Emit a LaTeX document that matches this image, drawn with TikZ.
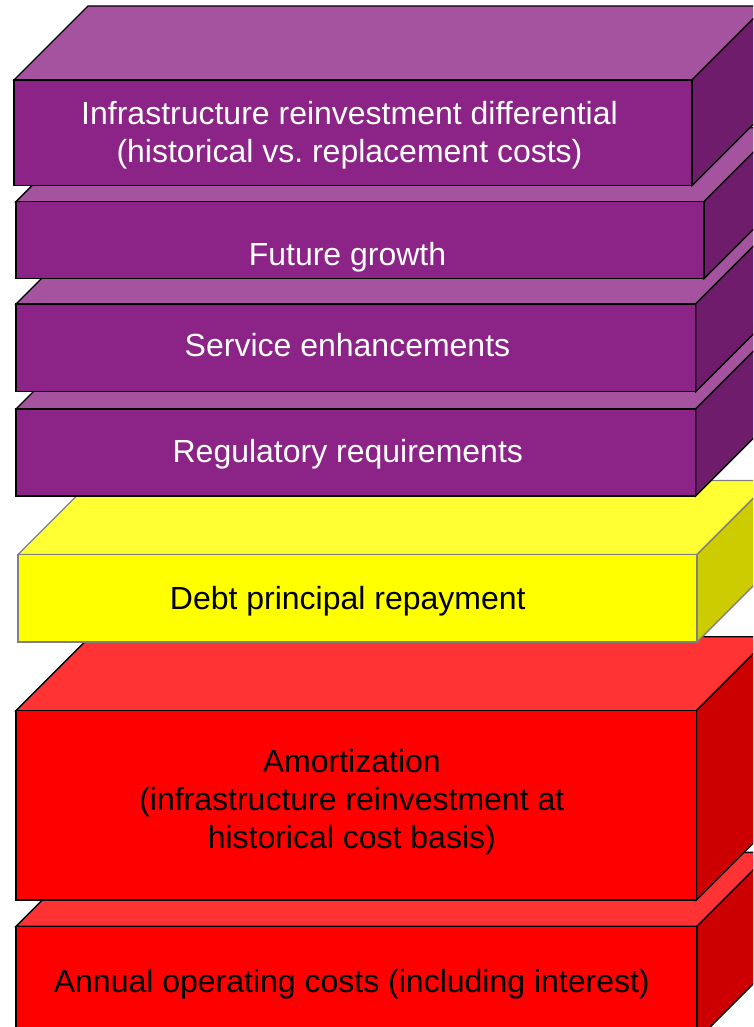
\documentclass[tikz,border=0pt]{standalone}
\usepackage{fontspec}
\setmainfont{Liberation Sans}
\frenchspacing
\definecolor{plumfront}{HTML}{8C2387}
\definecolor{plumtop}{HTML}{A5529F}
\definecolor{plumside}{HTML}{701C6C}
\definecolor{lemonfront}{HTML}{FFFF00}
\definecolor{lemontop}{HTML}{FFFF33}
\definecolor{lemonside}{HTML}{CCCC00}
\definecolor{lemonline}{HTML}{808080}
\definecolor{scarletfront}{HTML}{FF0000}
\definecolor{scarlettop}{HTML}{FF3333}
\definecolor{scarletside}{HTML}{CC0000}
% depth of every slab (45 degree receding edges)
\newcommand{\slabdepth}{74}
% #1 x left, #2 y top, #3 x right, #4 y bottom (front face), #5 colour family
\newcommand{\slab}[5]{%
  \filldraw[slabedge,draw=#5line,fill=#5top]
    (#1,#2) -- ({#1+\slabdepth},{#2-\slabdepth}) -- ({#3+\slabdepth},{#2-\slabdepth}) -- (#3,#2) -- cycle;
  \filldraw[slabedge,draw=#5line,fill=#5side]
    (#3,#2) -- ({#3+\slabdepth},{#2-\slabdepth}) -- ({#3+\slabdepth},{#4-\slabdepth}) -- (#3,#4) -- cycle;
  \filldraw[slabedge,draw=#5line,fill=#5front] (#1,#2) rectangle (#3,#4);
}
\colorlet{plumline}{black}
\colorlet{scarletline}{black}
\tikzset{
  slabedge/.style={line width=1.4pt, line join=miter},
  label/.style={font=\fontsize{32}{38}\selectfont, align=center, inner sep=0pt, anchor=base},
  lightlabel/.style={label, text=white},
  darklabel/.style={label, text=black}
}
\begin{document}
\begin{tikzpicture}[x=1pt,y=-1pt]
  \useasboundingbox (0,0) rectangle (753,1027);
  \clip (0,0) rectangle (753,1027);
  % slabs, drawn from the bottom of the stack upwards
  \slab{16}{926.3}{697}{1040}{scarlet}
  \slab{16}{710.7}{696.3}{900}{scarlet}
  \slab{18}{554.5}{697}{642}{lemon}
  \slab{16}{409}{695.7}{496}{plum}
  \slab{16}{304}{695.7}{391.7}{plum}
  \slab{16}{201.7}{704}{278.5}{plum}
  \slab{14}{80}{692}{185.7}{plum}
  % labels on the front faces (base anchor sits on the last line)
  \node[lightlabel] (reinvest) at (349.5,162.7) {Infrastructure reinvestment differential\\(historical vs.\ replacement costs)};
  \node[lightlabel] (growth) at (347.5,265) {Future growth};
  \node[lightlabel] (service) at (347.5,356.7) {Service enhancements};
  \node[lightlabel] (regulatory) at (347.8,462.7) {Regulatory requirements};
  \node[darklabel] (debt) at (347.8,609.7) {Debt principal repayment};
  \node[darklabel] (amort) at (351.8,848.7) {Amortization\\(infrastructure reinvestment at\\historical cost basis)};
  \node[darklabel] (operating) at (351.8,992.7) {Annual operating costs (including interest)};
\end{tikzpicture}
\end{document}
